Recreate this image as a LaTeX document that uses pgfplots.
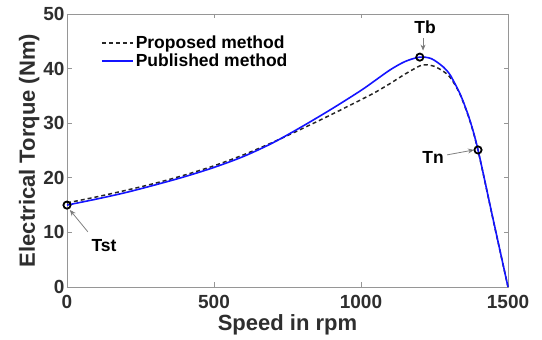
\documentclass[border=0pt]{standalone}
\usepackage{pgfplots}
\pgfplotsset{compat=1.18}
\usepackage{fontspec}
\setmainfont{Liberation Sans}
\usetikzlibrary{arrows.meta}
\definecolor{pubblue}{RGB}{20,20,255}
\definecolor{axgray}{RGB}{150,150,150}
\begin{document}
\begin{tikzpicture}
\begin{axis}[
  scale only axis,
  width=441pt, height=273pt,
  xmin=0, xmax=1500, ymin=0, ymax=50,
  xtick={0,500,1000,1500}, ytick={0,10,20,30,40,50},
  tick align=inside, major tick length=4.5pt,
  axis line style={axgray, line width=0.9pt},
  tick style={axgray, line width=0.7pt},
  /pgf/number format/assume math mode=true,
  /pgf/number format/1000 sep={},
  ticklabel style={font=\fontsize{19}{22}\selectfont\bfseries, text=black!82},
  xticklabel style={yshift=-5pt},
  yticklabel style={xshift=1pt},
  xlabel={Speed in rpm}, ylabel={Electrical Torque (Nm)},
  label style={font=\fontsize{22}{25}\selectfont\bfseries, text=black!82},
  xlabel style={at={(axis description cs:0.5,-0.139)}, anchor=center},
  ylabel style={at={(axis description cs:-0.086,0.5)}, anchor=center},
  legend style={draw=none, fill=none, at={(0.072,0.935)}, anchor=north west,
    font=\fontsize{17.5}{20}\selectfont\bfseries, row sep=0pt,
    legend cell align=left, inner sep=2pt},
  clip=false,
]
\addlegendimage{legend image code/.code={\draw[black!85, dash pattern=on 4pt off 3pt, line width=1.5pt] (0pt,0pt) -- (31pt,0pt);}}
\addlegendentry{Proposed method}
\addlegendimage{legend image code/.code={\draw[pubblue, line width=1.8pt] (0pt,0pt) -- (31pt,0pt);}}
\addlegendentry{Published method}
\addplot[black!85, dash pattern=on 4pt off 3pt, line width=1.5pt, smooth, forget plot] coordinates {
(0,15.4) (100,16.5) (200,17.7) (300,19.0) (400,20.5) (500,22.2) (600,24.2)
(700,26.5) (800,29.0) (900,31.6) (1000,34.3) (1050,35.7) (1100,37.3)
(1150,39.0) (1200,40.5) (1220,40.7) (1250,40.4) (1280,39.5) (1300,38.6)
(1320,37.0) (1340,34.9) (1370,30.5) (1398,25.0) (1449,12.4) (1500,0)};
\addplot[pubblue, line width=1.6pt, smooth, forget plot] coordinates {
(0,15.0) (100,16.1) (200,17.3) (300,18.7) (400,20.2) (500,21.9) (600,23.9)
(700,26.4) (800,29.4) (900,32.6) (1000,36.0) (1050,37.9) (1100,39.8)
(1150,41.3) (1200,42.1) (1240,41.8) (1280,40.3) (1300,39.1) (1313,37.9)
(1340,35.0) (1370,30.6) (1398,25.1) (1449,12.5) (1500,0)};
\addplot[only marks, mark=o, mark size=3.6pt, mark options={line width=1.8pt, black}, forget plot]
coordinates {(0,15.0) (1200,42.1) (1398,25.1)};
\draw[gray, line width=0.8pt, -{Stealth[length=6pt,width=5pt,fill=black]}] (axis cs:71,10.1) -- (axis cs:10,14.1);
\draw[gray, line width=0.8pt, -{Stealth[length=6pt,width=5pt,fill=black]}] (axis cs:1211,45.6) -- (axis cs:1211,43.3);
\draw[gray, line width=0.8pt, -{Stealth[length=6pt,width=5pt,fill=black]}] (axis cs:1293,24.2) -- (axis cs:1384,25.1);
\node[font=\fontsize{17.5}{20}\selectfont\bfseries] at (axis cs:126,7.5) {Tst};
\node[font=\fontsize{17.5}{20}\selectfont\bfseries] at (axis cs:1218,47.6) {Tb};
\node[font=\fontsize{17.5}{20}\selectfont\bfseries] at (axis cs:1245,23.8) {Tn};
\end{axis}
\pgfresetboundingbox
\path (current axis.south west) ++(-67pt,-53pt) coordinate (bl);
\path (current axis.north east) ++(34pt,14pt) coordinate (tr);
\path (bl) rectangle (tr);
\end{tikzpicture}
\end{document}
